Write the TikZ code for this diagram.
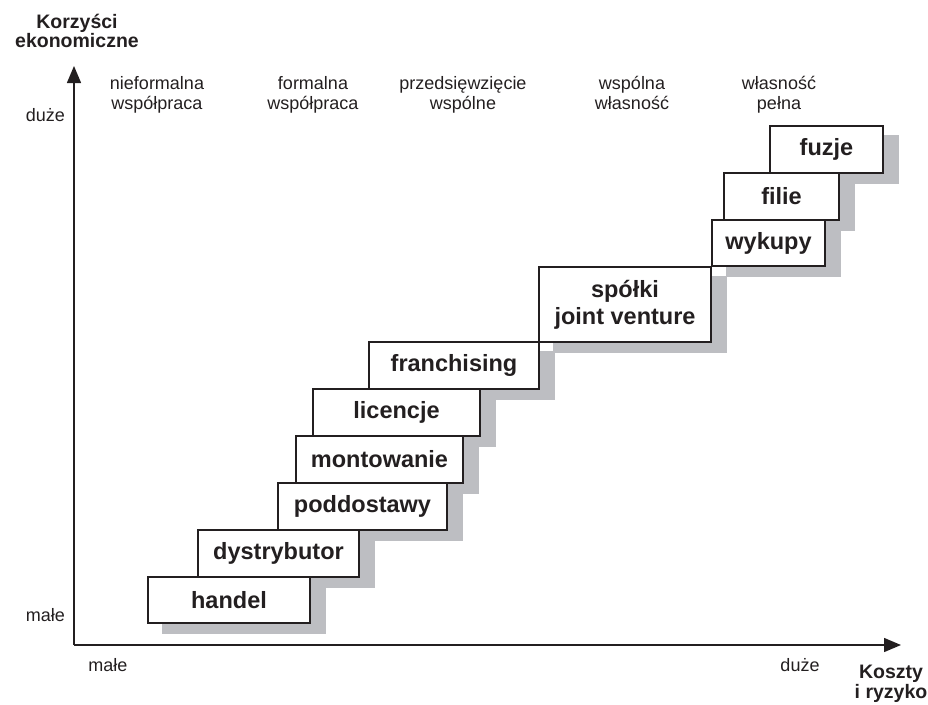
\documentclass[tikz,border=0pt]{standalone}
\usepackage{fontspec}
\setmainfont{Liberation Sans}
\usetikzlibrary{arrows.meta,backgrounds}
\definecolor{ink}{RGB}{35,31,32}
\definecolor{shadowgray}{RGB}{189,190,194}
\tikzset{
  stepbox/.style={draw=ink, line width=1.4pt, fill=white, inner sep=0pt,
    font=\fontsize{23.5}{27}\selectfont\bfseries, text=ink, align=center},
  axis/.style={draw=ink, line width=1.4pt, -{Triangle[length=17pt,width=14pt]}},
  lbl/.style={font=\fontsize{18}{20.5}\selectfont, text=ink, align=center, inner sep=0pt},
  colhead/.style={lbl, text depth=0pt, anchor=south},
  title/.style={font=\fontsize{19.5}{19.5}\selectfont\bfseries, text=ink, align=center, inner sep=0pt},
}
% a box given by left, top, right, bottom (y grows downward)
\newcommand{\stepnode}[6]{%
  \node[stepbox, minimum width={#4-#2}, minimum height={#5-#3}]
    (#1) at ({(#2+#4)/2},{(#3+#5)/2}) {#6};}
\begin{document}
\begin{tikzpicture}[x=1pt, y=-1pt]
\useasboundingbox (0,0) rectangle (928,704);

% axes
\coordinate (o) at (74,645);
\coordinate (ytip) at (74,66);
\coordinate (xtip) at (901,645);
\draw[axis] (o) -- (ytip);
\draw[axis] (o) -- (xtip);

% axis titles and scale words
\node[title] (ytitle) at (77,31) {Korzyści\\ekonomiczne};
\node[title] (xtitle) at (891,684) {Koszty\\i ryzyko};
\node[lbl, anchor=east] (yhigh) at (65,115) {duże};
\node[lbl, anchor=east] (ylow) at (65,615) {małe};
\node[lbl] (xlow) at (108,665) {małe};
\node[lbl] (xhigh) at (800,665) {duże};

% forms of cooperation
\node[colhead] (c1) at (157,110) {nieformalna\\współpraca};
\node[colhead] (c2) at (313,110) {formalna\\współpraca};
\node[colhead] (c3) at (463,110) {przedsięwzięcie\\wspólne};
\node[colhead] (c4) at (632,110) {wspólna\\własność};
\node[colhead] (c5) at (779,110) {własność\\pełna};

% the staircase of boxes
\stepnode{handel}{148}{577}{310}{623}{handel}
\stepnode{dystr}{198}{530}{359}{577}{dystrybutor}
\stepnode{podd}{278}{483}{447}{530}{poddostawy}
\stepnode{mont}{296}{436}{463}{483}{montowanie}
\stepnode{lic}{313}{389}{480}{436}{licencje}
\stepnode{fran}{369}{342}{539}{389}{franchising}
\stepnode{jv}{539}{267}{711}{342}{spółki\\joint venture}
\stepnode{wyk}{712}{220}{825}{266}{wykupy}
\stepnode{fil}{724}{173}{839}{220}{filie}
\stepnode{fuz}{770}{126}{883}{173}{fuzje}

% shadows behind every box
\begin{scope}[on background layer]
  \foreach \b in {handel,dystr,podd,mont,lic,fran,jv,wyk,fil,fuz}
    \fill[shadowgray] ([shift={(15,10)}]\b.north west) rectangle ([shift={(15,10)}]\b.south east);
\end{scope}
\end{tikzpicture}
\end{document}
